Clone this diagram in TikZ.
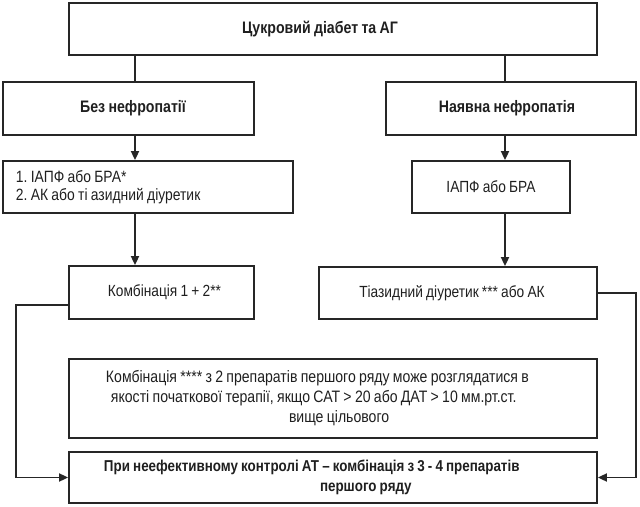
\documentclass[tikz,border=0pt]{standalone}
\usepackage{fontspec}
\setmainfont{Liberation Sans}[FakeStretch=0.85, WordSpace=0.85]
\usetikzlibrary{arrows.meta}
\frenchspacing
\begin{document}
\begin{tikzpicture}[x=1bp,y=-1bp,
  box/.style={draw=black!85, line width=1.8bp, rectangle, inner sep=0pt, text=black!88,
    font=\fontsize{16.2}{20}\selectfont},
  bbox/.style={box, font=\fontsize{16.7}{20}\selectfont\bfseries},
  conn/.style={draw=black!85, line width=1.8bp},
  arr/.style={conn, -{Triangle[length=9bp,width=8bp]}}]
\useasboundingbox (0,0) rectangle (640,507);
\coordinate (lx) at (135,0);
\coordinate (rx) at (505,0);
\coordinate (ly) at (0,305);
\coordinate (ry) at (0,293);
\coordinate (lcx) at (16,0);
\coordinate (rcx) at (636,0);

\node[bbox, minimum width=528bp, minimum height=52bp] (top) at (333,29)
  {Цукровий діабет та АГ\hspace*{26bp}};
\node[bbox, minimum width=251bp, minimum height=53bp] (bez) at (128.5,108.5)
  {\hspace*{9bp}Без нефропатії};
\node[bbox, minimum width=250bp, minimum height=53bp] (nay) at (511,108.5)
  {Наявна нефропатія\hspace*{8bp}};
\node[box, font=\fontsize{16.4}{18.5}\selectfont, text width=264bp, inner xsep=13bp,
  minimum height=52bp, align=flush left] (l1) at (148,187)
  {1. ІАПФ або БРА*\\2. АК або ті азидний діуретик};
\node[box, minimum width=158bp, minimum height=52bp] (r1) at (491,187)
  {ІАПФ або БРА};
\node[box, minimum width=185bp, minimum height=53bp] (l2) at (161.5,292.5)
  {\hspace*{6bp}Комбінація 1 + 2**};
\node[box, minimum width=278bp, minimum height=52bp] (r2) at (458,293)
  {Тіазидний діуретик *** або АК\hspace*{12bp}};
\node[box, font=\fontsize{16.6}{20}\selectfont, text width=454bp, inner xsep=37bp,
  minimum height=79bp, align=flush left] (note) at (333,398.5)
  {\mbox{Комбінація **** з 2 препаратів першого ряду може розглядатися в}\\
   \hspace*{5bp}\mbox{якості початкової терапії, якщо САТ > 20 або ДАТ > 10 мм.рт.ст.}\\
   \hspace*{183bp}вище цільового};
\node[bbox, font=\fontsize{15.8}{20}\selectfont\bfseries, text width=458bp, inner xsep=35bp,
  minimum height=51bp, align=flush left] (fin) at (333,477.5)
  {\mbox{При неефективному контролі АТ – комбінація з 3 - 4 препаратів}\\
   \hspace*{216bp}першого ряду};

\draw[conn] (top.south -| lx) -- (bez.north -| lx);
\draw[conn] (top.south -| rx) -- (nay.north -| rx);
\draw[arr] (bez.south -| lx) -- (l1.north -| lx);
\draw[arr] (nay.south -| rx) -- (r1.north -| rx);
\draw[arr] (l1.south -| lx) -- (l2.north -| lx);
\draw[arr] (r1.south -| rx) -- (r2.north -| rx);
\draw[arr] (l2.west |- ly) -| (lcx |- fin.west) -- (fin.west);
\draw[arr] (r2.east |- ry) -| (rcx |- fin.east) -- (fin.east);
\end{tikzpicture}
\end{document}
